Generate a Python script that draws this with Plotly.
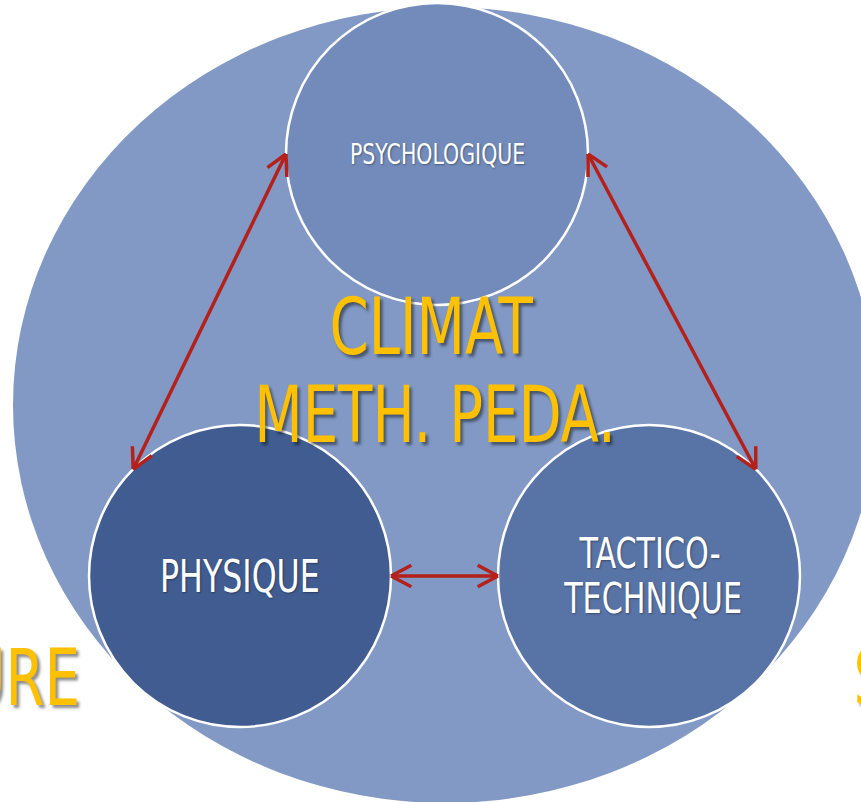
import math
import plotly.graph_objects as go

# ---- data ----
node_labels = [["PSYCHOLOGIQUE"], ["PHYSIQUE"], ["TACTICO-", "TECHNIQUE"]]
node_cx = [437, 240, 649]
node_cy = [154, 576, 576]
node_r = [151, 151, 151]
node_fill = ["#728BBA", "#405C91", "#5873A5"]
node_font = [28.5, 44, 42]

# links: (node a, angle on a, node b, angle on b) -- angles in degrees (math convention)
link_a = [1, 0, 1]
link_a_ang = [135, 0, 0]
link_b = [0, 2, 2]
link_b_ang = [180, 45, 180]

center_lines = ["CLIMAT", "METH. PEDA."]
side_texts = ["URE", "S"]

# ---- style ----
W, H = 861, 802
FONT = "DejaVu Sans Condensed, sans-serif"
YELLOW = "#FFC000"
RED = "#B3211A"
BIG = 78

fig = go.Figure()
shapes = []
# outer ellipse
shapes.append(dict(type="circle", xref="x", yref="y", x0=445 - 432, x1=445 + 432,
                   y0=405 - 398, y1=405 + 398, fillcolor="#8199C4", line=dict(width=0),
                   layer="below"))
for cx, cy, r, col in zip(node_cx, node_cy, node_r, node_fill):
    shapes.append(dict(type="circle", xref="x", yref="y", x0=cx - r, x1=cx + r,
                       y0=cy - r, y1=cy + r, fillcolor=col,
                       line=dict(color="white", width=2.5), layer="below"))


def pt(i, ang):
    a = math.radians(ang)
    return node_cx[i] + node_r[i] * math.cos(a), node_cy[i] - node_r[i] * math.sin(a)


HEAD_LEN = 23
HEAD_ANG = math.radians(28)
for a, aa, b, ba in zip(link_a, link_a_ang, link_b, link_b_ang):
    x1, y1 = pt(a, aa)
    x2, y2 = pt(b, ba)
    xs = [x1, x2, None]
    ys = [y1, y2, None]
    for (tx, ty, fx, fy) in [(x1, y1, x2, y2), (x2, y2, x1, y1)]:
        d = math.atan2(fy - ty, fx - tx)
        for s in (-1, 1):
            xs += [tx + HEAD_LEN * math.cos(d + s * HEAD_ANG), tx, None]
            ys += [ty + HEAD_LEN * math.sin(d + s * HEAD_ANG), ty, None]
    fig.add_trace(go.Scatter(x=xs, y=ys, mode="lines", hoverinfo="skip",
                             line=dict(color=RED, width=3.5), showlegend=False))

annotations = []
# node labels
line_gap = [0, 0, 45.5]
label_dx = [[0], [0], [0, 3]]
for i, lines in enumerate(node_labels):
    n = len(lines)
    for k, t in enumerate(lines):
        yy = node_cy[i] + (k - (n - 1) / 2) * line_gap[i]
        xx = node_cx[i] + label_dx[i][k]
        annotations.append(dict(x=xx, y=yy, xref="x", yref="y", text=t, showarrow=False,
                                xanchor="center", yanchor="middle",
                                font=dict(family=FONT, size=node_font[i], color="white",
                                          shadow="1px 1px 2px rgba(0,0,0,0.35)")))

center_x = [431, 435]
center_y = [327, 415]
for t, xx, yy in zip(center_lines, center_x, center_y):
    annotations.append(dict(x=xx, y=yy, xref="x", yref="y", text=t, showarrow=False,
                            xanchor="center", yanchor="middle",
                            font=dict(family=FONT, size=BIG, color=YELLOW,
                                      shadow="3px 3px 3px rgba(0,0,0,0.45)")))

# partial words cut by the picture's edges
side_x = [0, W]
side_shift = [22, 10]
for t, xx, sh in zip(side_texts, side_x, side_shift):
    annotations.append(dict(x=xx, y=678, xref="x", yref="y", text=t, showarrow=False,
                            xanchor="center", yanchor="middle", xshift=sh,
                            font=dict(family=FONT, size=BIG, color=YELLOW,
                                      shadow="3px 3px 3px rgba(0,0,0,0.45)")))

fig.update_layout(
    width=W, height=H, autosize=False,
    margin=dict(l=0, r=0, t=0, b=0, pad=0),
    paper_bgcolor="white", plot_bgcolor="white",
    shapes=shapes, annotations=annotations,
    xaxis=dict(range=[0, W], visible=False, fixedrange=True),
    yaxis=dict(range=[H, 0], visible=False, fixedrange=True),
    showlegend=False,
)

post = """
document.body.style.margin='0';
document.body.style.overflow='hidden';
var gd = document.getElementById('{plot_id}');
function squeeze(){
  gd.querySelectorAll('text.annotation-text').forEach(function(t){
    var b = t.getBBox();
    var cx = b.x + b.width/2, cy = b.y + b.height/2;
    t.setAttribute('transform', 'translate('+cx+','+cy+') scale(0.8,1) translate('+(-cx)+','+(-cy)+')');
  });
}
try { squeeze(); } catch(e) {}
if (gd && gd.on) { gd.on('plotly_afterplot', squeeze); }
setTimeout(squeeze, 30);
"""
fig.write_html("out.html", config={"displayModeBar": False, "staticPlot": True},
               post_script=post)
